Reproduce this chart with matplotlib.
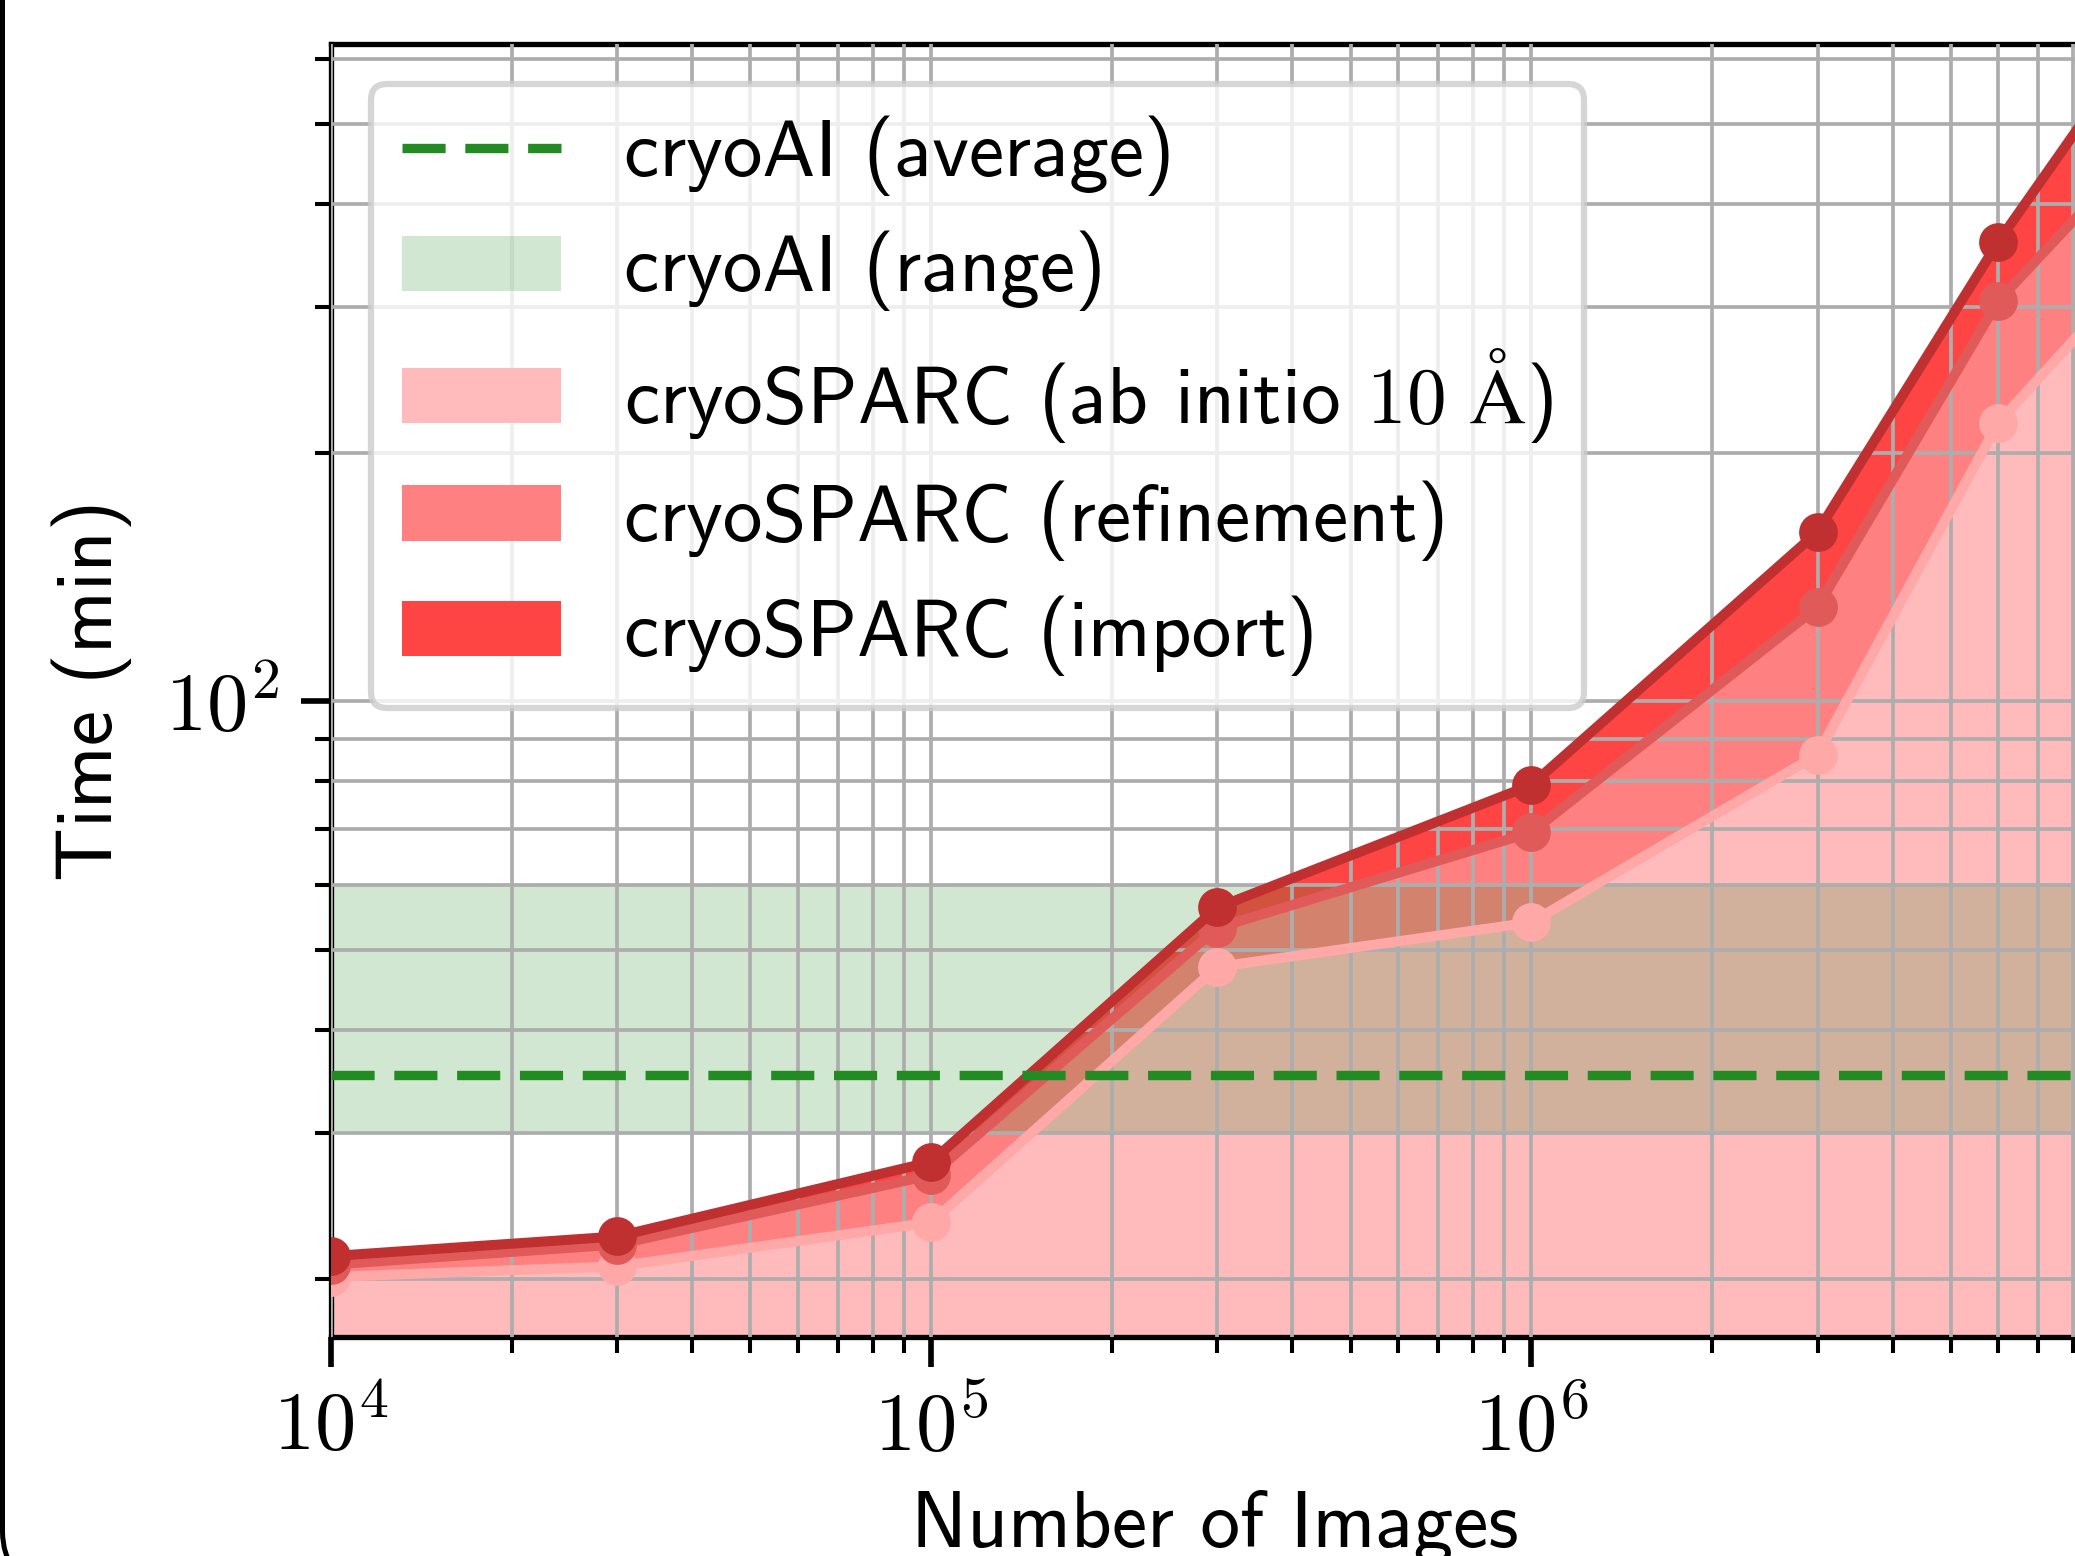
import numpy as np
import matplotlib
matplotlib.use('Agg')
import matplotlib.pyplot as plt
from matplotlib.patches import FancyBboxPatch, Patch
from matplotlib.lines import Line2D
from matplotlib.transforms import IdentityTransform
from matplotlib.ticker import LogLocator, FuncFormatter, NullFormatter

# ---------------- data ----------------
n_images = [1e4, 3e4, 1e5, 3e5, 1e6, 3e6, 6e6, 8.8e6]
t_abinitio = [20.1, 20.7, 23.4, 47.7, 54.0, 86.2, 217.4, 295]
t_refine = [20.8, 22.0, 26.7, 53.2, 69.4, 130.1, 305.3, 411]
t_import = [21.3, 22.5, 27.7, 56.3, 79.2, 160.4, 360, 535]
cryoai_avg = 35.3
cryoai_range = [30, 60]

labels = ['cryoAI (average)', 'cryoAI (range)',
          'cryoSPARC (ab initio $\\mathrm{10\\ Å}$)',
          'cryoSPARC (refinement)', 'cryoSPARC (import)']

# ---------------- style ----------------
plt.rcParams['font.family'] = ['cmss10', 'DejaVu Sans']
plt.rcParams['mathtext.fontset'] = 'cm'
plt.rcParams['axes.unicode_minus'] = False
plt.rcParams['axes.formatter.use_mathtext'] = True

FS = 12.7
W, H, DPI = 2075, 1556, 450
fig = plt.figure(figsize=(W / DPI, H / DPI), dpi=DPI)
ax_l, ax_r, ax_t, ax_b = 331, 2098, 44, 1337
ax = fig.add_axes([ax_l / W, (H - ax_b) / H, (ax_r - ax_l) / W, (ax_b - ax_t) / H])

fill_ab = '#FFBBBB'
fill_ref = '#FF8080'
fill_imp = '#FF4444'
line_ab = '#FFA8A8'
line_ref = '#E05A5A'
line_imp = '#C03030'
green = 'forestgreen'
dash = (0, (4.6, 2.1))

x = np.array(n_images)
ab = np.array(t_abinitio)
ref = np.array(t_refine)
imp = np.array(t_import)

ax.fill_between(x, 1, ab, color=fill_ab, lw=0, zorder=1)
ax.fill_between(x, ab, ref, color=fill_ref, lw=0, zorder=1)
ax.fill_between(x, ref, imp, color=fill_imp, lw=0, zorder=1)

ax.axhspan(cryoai_range[0], cryoai_range[1], color=green, alpha=0.2, lw=0, zorder=1.5)

ax.plot(x, ab, '-o', color=line_ab, lw=1.6, ms=5.2, zorder=3)
ax.plot(x, ref, '-o', color=line_ref, lw=1.6, ms=5.2, zorder=3.1)
ax.plot(x, imp, '-o', color=line_imp, lw=1.6, ms=5.2, zorder=3.2)

ax.axhline(cryoai_avg, color=green, lw=1.5, ls=dash, zorder=4)

ax.set_xscale('log')
ax.set_yscale('log')
ax.set_xlim(1e4, 8.8e6)
ax.set_ylim(17.0, 625)

ax.xaxis.set_major_locator(LogLocator(base=10))
ax.xaxis.set_minor_locator(LogLocator(base=10, subs=np.arange(2, 10)))
ax.yaxis.set_major_locator(LogLocator(base=10))
ax.yaxis.set_minor_locator(LogLocator(base=10, subs=np.arange(2, 10)))
fmt = FuncFormatter(lambda v, p: r'$\mathrm{10^{%d}}$' % int(round(np.log10(v))))
ax.xaxis.set_major_formatter(fmt)
ax.yaxis.set_major_formatter(fmt)
ax.xaxis.set_minor_formatter(NullFormatter())
ax.yaxis.set_minor_formatter(NullFormatter())

ax.set_axisbelow(False)
ax.grid(True, which='both', color='#adadad', lw=0.6)
for s in ax.spines.values():
    s.set_linewidth(0.85)
ax.tick_params(which='major', length=4.8, width=0.9, labelsize=13.2, pad=3.5)
ax.tick_params(which='minor', length=2.6, width=0.65)

ax.set_xlabel('Number of Images', fontsize=FS)
ax.set_ylabel('Time (min)', fontsize=FS)
ax.xaxis.set_label_coords(0.5, -0.118)
ax.yaxis.set_label_coords(-0.1126, 0.5)

handles = [Line2D([], [], color=green, lw=1.5, ls=dash),
           Patch(facecolor=green, alpha=0.2, lw=0),
           Patch(facecolor=fill_ab, lw=0),
           Patch(facecolor=fill_ref, lw=0),
           Patch(facecolor=fill_imp, lw=0)]
leg = ax.legend(handles, labels, loc='upper left', fontsize=FS,
                framealpha=0.8, edgecolor='0.8', fancybox=True,
                handletextpad=0.79, labelspacing=0.44)
leg.get_frame().set_linewidth(1.0)
leg.set_zorder(10)

frame = FancyBboxPatch((2.5, -25), 6000, 6000,
                       boxstyle='round,pad=0,rounding_size=50',
                       transform=IdentityTransform(), fill=False,
                       ec='black', lw=0.8, clip_on=False)
fig.add_artist(frame)

fig.savefig('out.png', dpi=DPI)
